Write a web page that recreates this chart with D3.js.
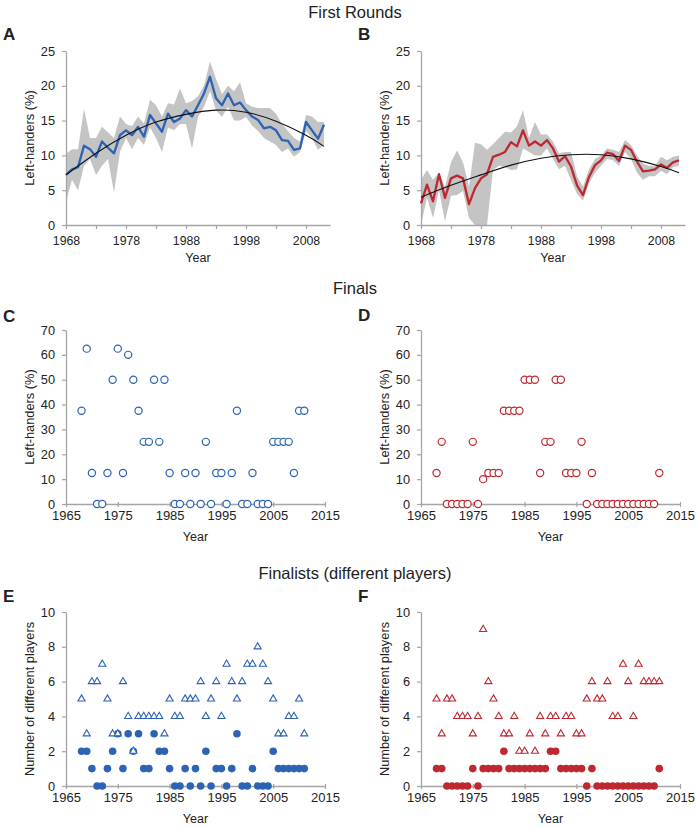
<!DOCTYPE html>
<html>
<head>
<meta charset="utf-8">
<script src="https://cdn.jsdelivr.net/npm/d3@7"></script>
<style>
body { margin: 0; background: #fff; }
svg text { font-family: "Liberation Sans", Arial, sans-serif; fill: #222; }
</style>
</head>
<body>
<svg id="chart" width="697" height="827"></svg>
<script>
// years 1968-2011, one value per year in every series below
const years = [1968, 1969, 1970, 1971, 1972, 1973, 1974, 1975, 1976, 1977,
	1978, 1979, 1980, 1981, 1982, 1983, 1984, 1985, 1986, 1987,
	1988, 1989, 1990, 1991, 1992, 1993, 1994, 1995, 1996, 1997,
	1998, 1999, 2000, 2001, 2002, 2003, 2004, 2005, 2006, 2007,
	2008, 2009, 2010, 2011];

// A - first rounds, men
const roundsA = [7.2, 8.0, 8.3, 11.4, 10.9, 9.8, 12.0, 11.1, 10.3, 12.9,
	13.6, 12.9, 14.1, 12.7, 15.8, 14.6, 13.4, 16.0, 14.8, 15.3,
	16.5, 15.6, 17.2, 18.9, 21.3, 18.2, 17.2, 18.9, 17.2, 17.6,
	16.5, 15.6, 15.1, 13.9, 14.1, 13.6, 12.2, 12.1, 10.8, 11.0,
	14.8, 13.6, 12.4, 14.4];
const upperA = [10.2, 10.9, 10.9, 16.7, 12.5, 12.5, 14.1, 13.3, 12.5, 15.6,
	14.5, 14.2, 15.6, 14.6, 18.0, 17.2, 15.6, 17.5, 17.3, 19.6,
	17.5, 17.8, 18.5, 20.0, 23.5, 21.0, 18.8, 20.0, 19.2, 20.5,
	17.5, 17.0, 16.8, 16.8, 16.8, 16.0, 14.5, 13.5, 12.5, 12.0,
	15.8, 15.6, 14.8, 14.8];
const lowerA = [3.3, 6.5, 5.0, 8.5, 9.5, 7.2, 8.5, 9.5, 4.7, 10.5,
	12.5, 10.9, 12.5, 11.5, 14.0, 12.5, 10.5, 14.0, 13.6, 14.5,
	14.5, 11.0, 15.5, 17.0, 19.2, 16.5, 15.5, 17.0, 15.0, 15.0,
	15.5, 14.3, 13.5, 12.5, 12.0, 11.5, 10.5, 11.0, 9.8, 10.5,
	13.5, 12.5, 10.8, 11.5];

// B - first rounds, women
const roundsB = [3.1, 5.8, 3.4, 7.3, 3.9, 6.7, 7.1, 6.7, 3.0, 5.3,
	6.7, 7.3, 9.8, 10.1, 10.5, 11.9, 11.3, 13.6, 11.4, 12.0,
	11.4, 12.2, 11.0, 9.1, 9.9, 8.4, 5.7, 4.3, 6.9, 8.6,
	9.3, 10.4, 10.2, 9.2, 11.4, 10.8, 9.1, 7.7, 7.8, 8.0,
	8.7, 8.2, 9.0, 9.3];
const upperB = [6.5, 7.9, 6.5, 7.5, 5.5, 9.0, 10.7, 9.0, 5.5, 11.8,
	11.6, 10.8, 11.6, 12.5, 13.4, 13.3, 14.2, 16.5, 12.5, 14.8,
	13.0, 13.0, 12.0, 10.3, 10.5, 10.5, 7.0, 5.5, 8.0, 9.5,
	10.0, 11.0, 10.8, 10.5, 12.2, 11.5, 10.0, 8.8, 8.5, 8.5,
	9.8, 9.3, 9.8, 10.0];
const lowerB = [0.0, 3.9, 1.0, 5.0, 0.5, 4.2, 4.3, 4.9, 1.0, 0.0,
	0.0, 0.0, 7.9, 8.5, 8.3, 7.9, 8.0, 11.0, 10.5, 10.0,
	10.0, 11.0, 9.5, 8.0, 8.5, 6.5, 4.5, 3.5, 6.0, 7.5,
	8.5, 9.5, 9.3, 8.5, 10.5, 9.5, 7.5, 6.5, 7.0, 7.0,
	7.8, 7.3, 8.3, 8.5];

// fitted trend curves, read at a few years
const trendYears = [1968, 1973, 1978, 1983, 1988, 1993, 1998, 2003, 2008, 2011];
const trendA = [7.2, 10.3, 12.9, 14.8, 15.9, 16.5, 16.2, 14.9, 12.9, 11.3];
const trendB = [4.0, 5.7, 7.2, 8.6, 9.6, 10.1, 10.1, 9.5, 8.4, 7.5];

// C / D - finals, left-handers (%)
const finalsC = [37.5, 62.5, 12.5, 0, 0, 12.5, 50, 62.5, 12.5, 60,
	50, 37.5, 25, 25, 50, 25, 50, 12.5, 0, 0,
	12.5, 0, 12.5, 0, 25, 0, 12.5, 12.5, 0, 12.5,
	37.5, 0, 0, 12.5, 0, 0, 0, 25, 25, 25,
	25, 12.5, 37.5, 37.5];
const finalsD = [12.5, 25, 0, 0, 0, 0, 0, 25, 0, 10,
	12.5, 12.5, 12.5, 37.5, 37.5, 37.5, 37.5, 50, 50, 50,
	12.5, 25, 25, 50, 50, 12.5, 12.5, 12.5, 25, 0,
	12.5, 0, 0, 0, 0, 0, 0, 0, 0, 0,
	0, 0, 0, 12.5];

// E / F - finalists, number of different players (triangles: all, circles: left-handed)
const playersE = [5, 3, 6, 6, 7, 5, 3, 3, 6, 4,
	2, 4, 4, 4, 4, 4, 3, 5, 4, 4,
	5, 5, 5, 6, 4, 5, 6, 4, 7, 6,
	5, 6, 7, 7, 8, 7, 6, 5, 3, 3,
	4, 4, 5, 3];
const leftE = [2, 2, 1, 0, 0, 1, 2, 3, 1, 3,
	2, 3, 1, 1, 3, 2, 2, 1, 0, 0,
	1, 0, 1, 0, 2, 0, 1, 1, 0, 1,
	3, 0, 0, 1, 0, 0, 0, 2, 1, 1,
	1, 1, 1, 1];
const playersF = [5, 3, 5, 5, 4, 4, 4, 3, 4, 9,
	6, 5, 4, 3, 3, 4, 2, 2, 3, 2,
	4, 3, 4, 4, 3, 4, 4, 3, 3, 5,
	6, 5, 5, 6, 4, 4, 7, 6, 4, 7,
	6, 6, 6, 6];
const leftF = [1, 1, 0, 0, 0, 0, 0, 1, 0, 1,
	1, 1, 1, 2, 1, 1, 1, 1, 1, 1,
	1, 1, 2, 2, 1, 1, 1, 1, 1, 0,
	1, 0, 0, 0, 0, 0, 0, 0, 0, 0,
	0, 0, 0, 1];

// tick values
const roundsXTicks = [1968, 1973, 1978, 1983, 1988, 1993, 1998, 2003, 2008];
const roundsXLabels = [1968, 1978, 1988, 1998, 2008];
const roundsYTicks = [0, 5, 10, 15, 20, 25];
const finalsXTicks = [1965, 1975, 1985, 1995, 2005, 2015];
const finalsYTicks = [0, 10, 20, 30, 40, 50, 60, 70];
const playersYTicks = [0, 2, 4, 6, 8, 10];

const blue = '#2d63b3';
const red = '#be2830';
const band = '#c4c4c4';
const axisColor = '#a5a5a5';

const svg = d3.select('#chart');

function makePanel(o) {
	const x = d3.scaleLinear().domain(o.xDomain).range([o.left, o.right]);
	const y = d3.scaleLinear().domain(o.yDomain).range([o.bottom, o.top]);
	const g = svg.append('g');
	return { x, y, g, o };
}

function drawAxes(p, xTicks, xFormat, yTicks, opt) {
	const xAxis = d3.axisBottom(p.x)
		.tickValues(xTicks)
		.tickFormat(xFormat)
		.tickSizeInner(opt.xTickSize)
		.tickSizeOuter(0)
		.tickPadding(opt.xPad);

	const gx = p.g.append('g')
		.attr('transform', 'translate(0,' + p.o.bottom + ')')
		.call(xAxis);

	const yAxis = d3.axisLeft(p.y)
		.tickValues(yTicks)
		.tickSizeInner(4)
		.tickSizeOuter(0)
		.tickPadding(7);

	const gy = p.g.append('g')
		.attr('transform', 'translate(' + p.o.left + ',0)')
		.call(yAxis);

	[gx, gy].forEach(a => {
		a.attr('font-family', null).attr('font-size', null);
		a.select('.domain').attr('stroke', axisColor).attr('stroke-width', 1.3);
		a.selectAll('.tick line').attr('stroke', axisColor).attr('stroke-width', 1.2);
		a.selectAll('.tick text').attr('fill', '#222');
	});
	gx.selectAll('.tick text').style('font-size', opt.xFont + 'px');
	gy.selectAll('.tick text').style('font-size', '12.8px');
	if (opt.crossTicks) gx.selectAll('.tick line').attr('y1', -2).attr('y2', 3);
}

function labels(p, letter, ylabel, yearY) {
	const o = p.o;
	svg.append('text')
		.attr('x', o.left - 63)
		.attr('y', o.letterY)
		.style('font-size', '17px')
		.style('font-weight', 'bold')
		.text(letter);

	svg.append('text')
		.attr('transform', 'translate(' + (o.left - 32) + ',' + ((o.top + o.bottom) / 2) + ') rotate(-90)')
		.attr('text-anchor', 'middle')
		.style('font-size', '12.8px')
		.text(ylabel);

	svg.append('text')
		.attr('x', (o.left + o.right) / 2)
		.attr('y', yearY)
		.attr('text-anchor', 'middle')
		.style('font-size', '12.5px')
		.text('Year');
}

function title(text, y) {
	svg.append('text')
		.attr('x', 355)
		.attr('y', y)
		.attr('text-anchor', 'middle')
		.style('font-size', '16.5px')
		.text(text);
}

// ---- first rounds ----
function roundsPanel(o, values, upper, lower, trend, color, letter) {
	const p = makePanel(o);
	const rows = years.map((yr, i) => ({ yr, v: values[i], hi: upper[i], lo: lower[i] }));

	p.g.append('path')
		.datum(rows)
		.attr('fill', band)
		.attr('d', d3.area()
			.x(d => p.x(d.yr))
			.y0(d => p.y(d.lo))
			.y1(d => p.y(d.hi)));

	drawAxes(p, roundsXTicks, d => roundsXLabels.includes(d) ? d : '', roundsYTicks,
		{ xTickSize: 4, xPad: 7, xFont: 12.3 });

	p.g.append('path')
		.datum(rows)
		.attr('fill', 'none')
		.attr('stroke', color)
		.attr('stroke-width', 2.3)
		.attr('stroke-linejoin', 'round')
		.attr('d', d3.line().x(d => p.x(d.yr)).y(d => p.y(d.v)));

	p.g.append('path')
		.datum(trendYears.map((yr, i) => [yr, trend[i]]))
		.attr('fill', 'none')
		.attr('stroke', '#111')
		.attr('stroke-width', 1.1)
		.attr('d', d3.line().curve(d3.curveNatural).x(d => p.x(d[0])).y(d => p.y(d[1])));

	labels(p, letter, 'Left-handers (%)', 262);
}

// ---- finals ----
function finalsPanel(o, values, color, letter) {
	const p = makePanel(o);
	drawAxes(p, finalsXTicks, d => d, finalsYTicks,
		{ xTickSize: 3, xPad: 4, xFont: 13, crossTicks: true });

	p.g.selectAll('circle.f')
		.data(years)
		.enter()
		.append('circle')
		.attr('class', 'f')
		.attr('cx', (d) => p.x(d))
		.attr('cy', (d, i) => p.y(values[i]))
		.attr('r', 3.6)
		.attr('fill', '#fff')
		.attr('stroke', color)
		.attr('stroke-width', 1.2);

	labels(p, letter, 'Left-handers (%)', 541);
}

// ---- finalists ----
function playersPanel(o, all, left, color, letter) {
	const p = makePanel(o);
	drawAxes(p, finalsXTicks, d => d, playersYTicks,
		{ xTickSize: 3, xPad: 4, xFont: 13, crossTicks: true });

	p.g.selectAll('circle.l')
		.data(years)
		.enter()
		.append('circle')
		.attr('class', 'l')
		.attr('cx', (d) => p.x(d))
		.attr('cy', (d, i) => p.y(left[i]))
		.attr('r', 3.8)
		.attr('fill', color);

	const tri = d3.symbol().type(d3.symbolTriangle).size(22);
	p.g.selectAll('path.t')
		.data(years)
		.enter()
		.append('path')
		.attr('class', 't')
		.attr('transform', (d, i) => 'translate(' + p.x(d) + ',' + p.y(all[i]) + ')')
		.attr('d', tri)
		.attr('fill', '#fff')
		.attr('stroke', color)
		.attr('stroke-width', 1.1);

	labels(p, letter, 'Number of different players', 823);
}

title('First Rounds', 18);
roundsPanel({ left: 66, right: 330, top: 51, bottom: 225, xDomain: [1968, 2012], yDomain: [0, 25], letterY: 40 },
	roundsA, upperA, lowerA, trendA, blue, 'A');
roundsPanel({ left: 421, right: 685, top: 51, bottom: 225, xDomain: [1968, 2012], yDomain: [0, 25], letterY: 40 },
	roundsB, upperB, lowerB, trendB, red, 'B');

title('Finals', 294);
finalsPanel({ left: 66, right: 325, top: 330, bottom: 504, xDomain: [1965, 2015], yDomain: [0, 70], letterY: 322 },
	finalsC, blue, 'C');
finalsPanel({ left: 421, right: 680, top: 330, bottom: 504, xDomain: [1965, 2015], yDomain: [0, 70], letterY: 321 },
	finalsD, red, 'D');

title('Finalists (different players)', 579);
playersPanel({ left: 66, right: 325, top: 612, bottom: 786, xDomain: [1965, 2015], yDomain: [0, 10], letterY: 602 },
	playersE, leftE, blue, 'E');
playersPanel({ left: 421, right: 680, top: 612, bottom: 786, xDomain: [1965, 2015], yDomain: [0, 10], letterY: 602 },
	playersF, leftF, red, 'F');
</script>
</body>
</html>
